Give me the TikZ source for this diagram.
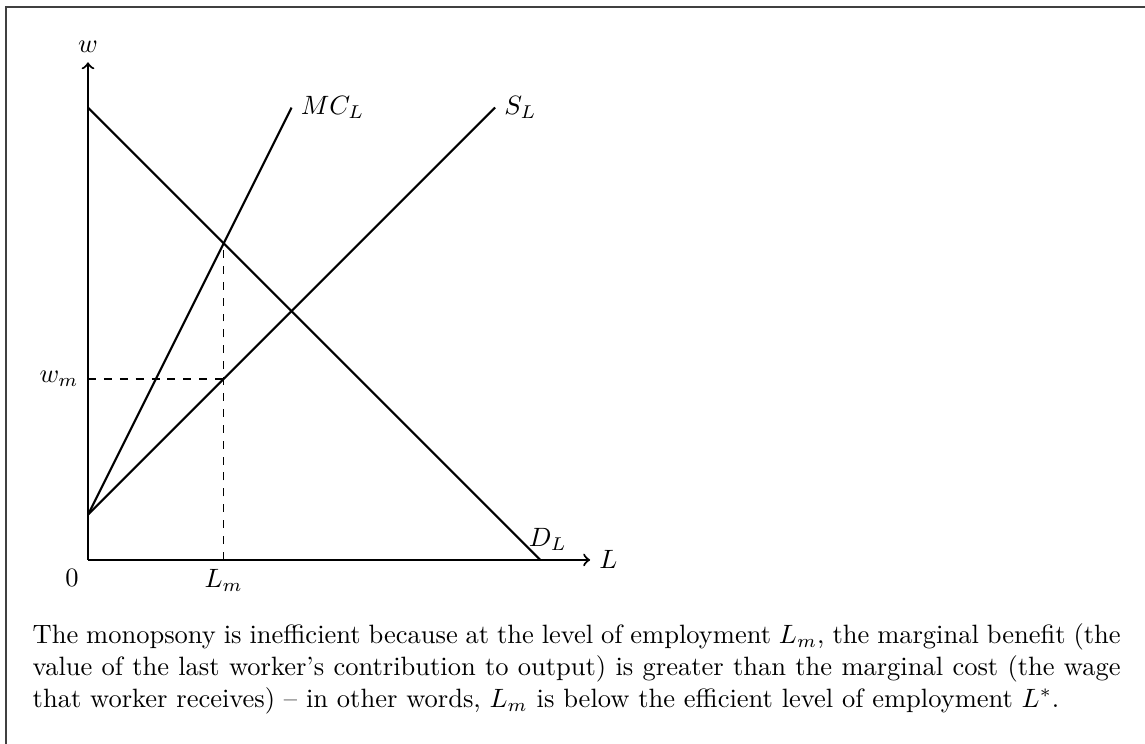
\documentclass[tikz,border=0pt]{standalone}
\usepackage{amsmath,amssymb}
\usepackage{tikz}
\usetikzlibrary{positioning}

\begin{document}
\begin{tikzpicture}[>=to,
  axis/.style={thick,->},
  curve/.style={thick},
  guide/.style={dashed},
  framebox/.style={draw=black!75,line width=0.6pt}]

  \useasboundingbox (-1.167,-2.44) rectangle (14.02,7.427);
  \clip (-1.167,-2.44) rectangle (14.02,7.427);
  % frame round figure and note (runs off the right and bottom edge)
  \draw[framebox] (-1.09,-2.7) rectangle (14.2,7.334);

  % axes
  \coordinate (O) at (0,0);
  \coordinate (xend) at (6.66,0);
  \coordinate (yend) at (0,6.6);
  \draw[axis] (O) -- (xend);
  \draw[axis] (O) -- (yend);
  \node[right] (xlab) at (xend) {$L$};
  \node[above] (ylab) at (yend) {$w$};
  \node[below left] (zero) at (O) {$0$};

  % labour demand, supply and marginal cost
  \coordinate (dtop) at (0,6);
  \coordinate (dbot) at (6,0);
  \coordinate (s0) at (0,0.6);
  \coordinate (stop) at (5.4,6);
  \coordinate (mctop) at (2.7,6);
  \draw[curve] (dtop) -- (dbot);
  \draw[curve] (s0) -- (stop);
  \draw[curve] (s0) -- (mctop);
  \node[right] (mclab) at (mctop) {$MC_L$};
  \node[right] (slab) at (stop) {$S_L$};
  \node[above,xshift=1mm] (dlab) at (dbot) {$D_L$};

  % monopsony choice
  \coordinate (mon) at (1.8,4.2);
  \coordinate (smon) at (1.8,2.4);
  \coordinate (Lm) at (1.8,0);
  \coordinate (wm) at (0,2.4);
  \draw[guide] (Lm) -- (mon);
  \draw[guide] (wm) -- (smon);
  \node[below] (Lmlab) at (Lm) {$L_m$};
  \node[left] (wmlab) at (wm) {$w_m$};

  \node[anchor=north west,text width=14.43cm,inner sep=0pt,align=justify] (note) at (-0.74,-0.84)
    {The monopsony is inefficient because at the level of employment $L_m$, the marginal benefit (the\linebreak
     value of the last worker's contribution to output) is greater than the marginal cost (the wage\linebreak
     that worker receives) -- in other words, $L_m$ is below the efficient level of employment $L^*$.};
\end{tikzpicture}
\end{document}
